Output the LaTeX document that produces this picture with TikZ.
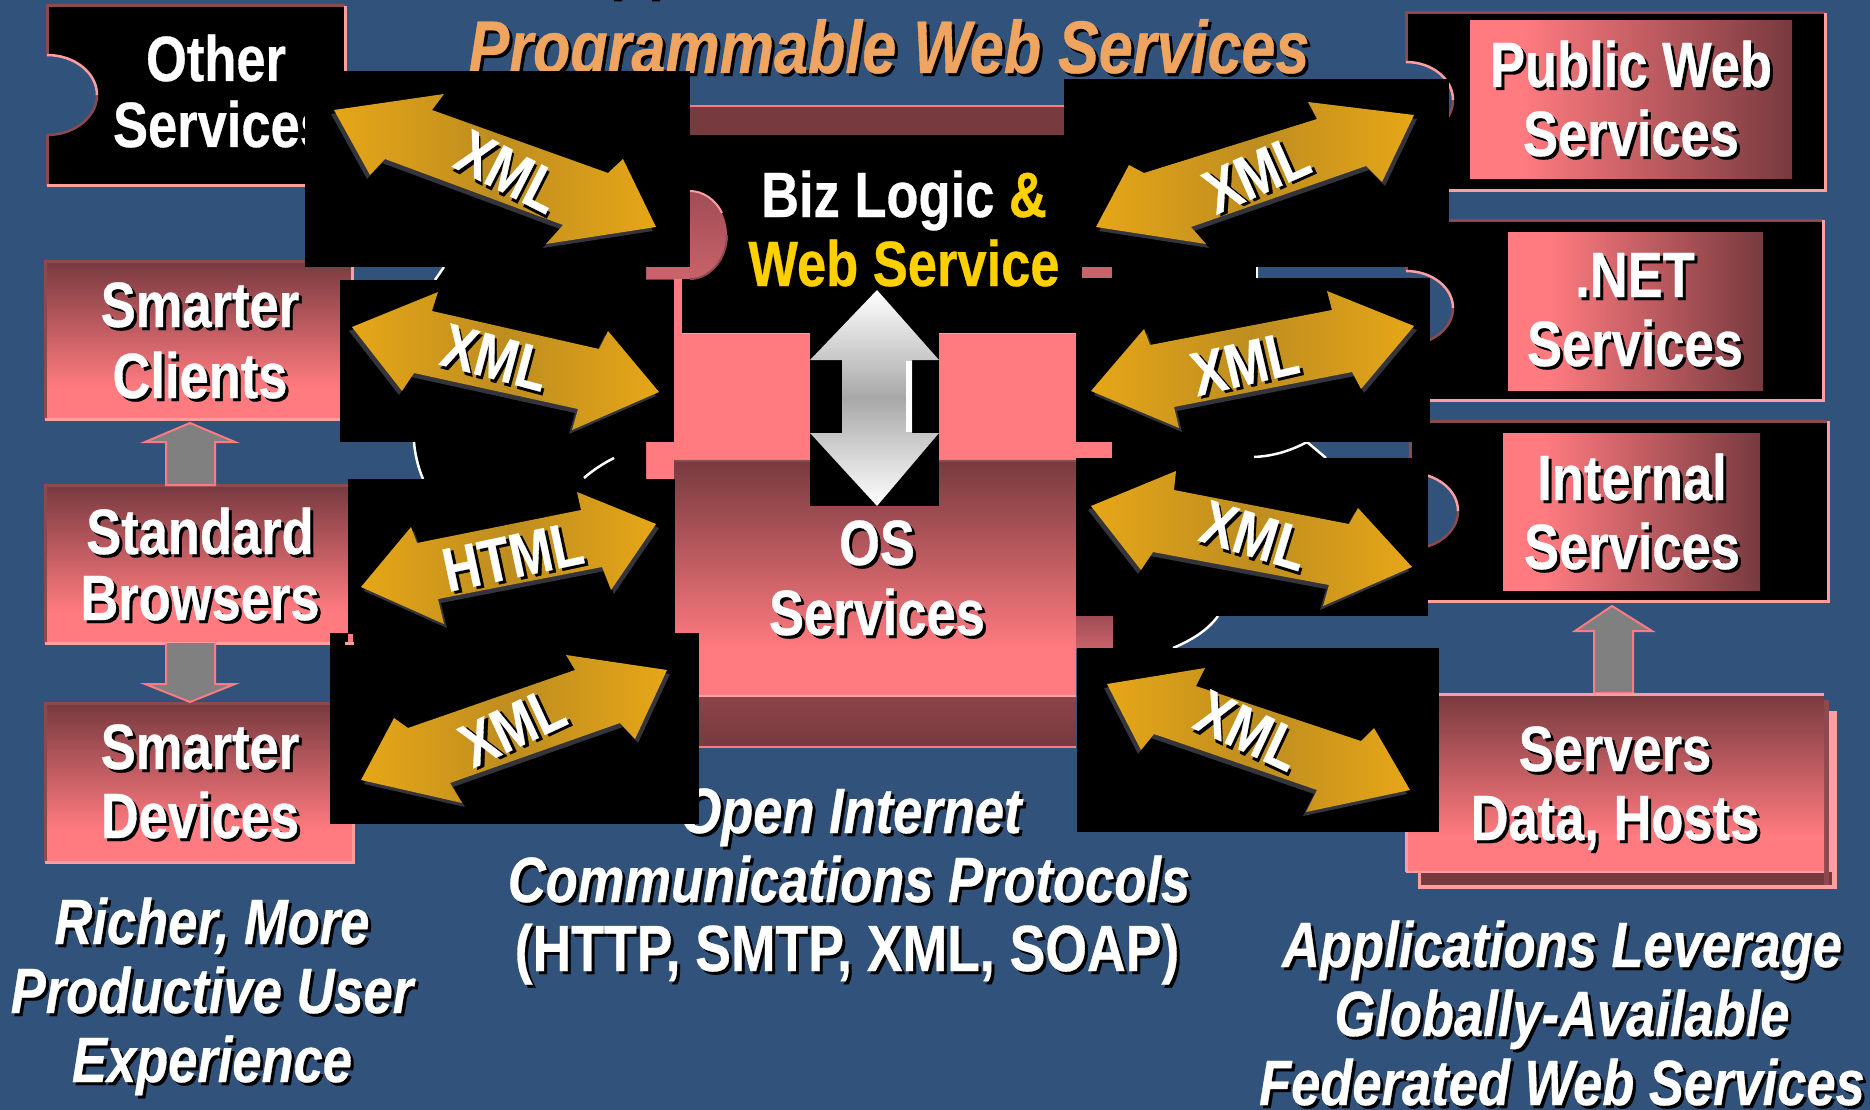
\documentclass[tikz,border=0pt]{standalone}
\usepackage{fontspec}
\newfontfamily\lab[FakeStretch=0.82,FakeBold=0.5]{Liberation Sans}
\definecolor{bgc}{HTML}{30527B}
\definecolor{pk}{HTML}{FF7B80}
\definecolor{dk}{HTML}{773A3F}
\definecolor{lt}{HTML}{FF9EA2}
\definecolor{ed}{HTML}{8C4A50}
\definecolor{tabc}{HTML}{C9626A}
\definecolor{tabd}{HTML}{A04D55}
\definecolor{gd}{HTML}{E6A617}
\definecolor{gdm}{HTML}{BE8D20}
\definecolor{ttl}{HTML}{EFA45F}
\definecolor{yel}{HTML}{FFD000}
\definecolor{sv}{HTML}{A8A8A8}
\definecolor{gsh}{HTML}{33343C}
\pgfdeclareverticalshading{redv}{100bp}{color(0bp)=(pk); color(35bp)=(pk); color(75bp)=(dk); color(100bp)=(dk)}
\pgfdeclarehorizontalshading{redh}{100bp}{color(0bp)=(pk); color(33bp)=(pk); color(75bp)=(dk); color(100bp)=(dk)}
\pgfdeclareverticalshading{silv}{100bp}{color(0bp)=(white); color(25bp)=(white); color(50bp)=(sv); color(75bp)=(white); color(100bp)=(white)}
\newcommand\sh[1]{\leavevmode\rlap{\kern3pt\raisebox{-3pt}{\color{black}#1}}#1}
\newcommand\edges[4]{%
  \draw[ed,line width=3pt] (#1,#4)--(#1,#2)--(#3,#2);
  \draw[lt,line width=3pt] (#3,#2)--(#3,#4)--(#1,#4);}
\newcommand\rbox[5]{% shaded box
  \shade[shading=#5] (#1,#2) rectangle (#3,#4);
  \edges{#1}{#2}{#3}{#4}}
\newcommand\notch[4]{%
  \begin{scope}[shift={(#1,#2)},xscale=#3,yscale=#4]
  \fill[bgc] (-.05,-1) -- (0,-1) .. controls (.5523,-1) and (1,-.5523) .. (1,0) .. controls (1,.5523) and (.5523,1) .. (0,1) -- (-.05,1) -- cycle;
  \draw[ed,line width=2.5pt] (1,0) .. controls (1,.5523) and (.5523,1) .. (0,1);
  \draw[lt,line width=2.5pt] (0,-1) .. controls (.5523,-1) and (1,-.5523) .. (1,0);
  \end{scope}}
\newcommand\goldarrow[3]{%
  \fill[gsh,shift={(#1,#2)}] #3 -- cycle;
  \shade[left color=gd,right color=gd,middle color=gdm] #3 -- cycle;}
\newcommand\grayarrow[1]{\draw[fill=gray,draw=pk,line width=2pt] #1;}
\tikzset{
  every node/.style={inner sep=0pt,outer sep=0pt},
  lab/.style={anchor=base,text=white,font=\lab\bfseries\fontsize{64}{64}\selectfont},
  ital/.style={anchor=base,text=white,font=\lab\bfseries\itshape\fontsize{64}{64}\selectfont},
  ttlstyle/.style={anchor=base,text=ttl,font=\lab\bfseries\itshape\fontsize{74.5}{74.5}\selectfont},
  xlab/.style={anchor=center,text=white,font=\lab\bfseries\fontsize{62}{62}\selectfont},
}
\begin{document}
\begin{tikzpicture}[x=1pt,y=-1pt]
\useasboundingbox (0,0) rectangle (1870,1110);
\fill[bgc] (0,0) rectangle (1870,1110);
\fill[black] (614,0) rectangle (622,1.5) (652,0) rectangle (660,1.5);
% title
\node[ttlstyle] (title) at (889,73) {\sh{Programmable Web Services}};
% centre band, pink block, OS box
\fill[dk] (690,106) rectangle (1070,135);
\draw[pk,line width=2pt] (690,106)--(1070,106);
\fill[pk] (674,333) rectangle (1076,461);
\fill[pk] (646,442) rectangle (682,479);
\fill[pk] (1076,442) rectangle (1112,458);
\draw[lt,line width=2pt] (682,333)--(1076,333);
\shade[shading=redv] (674,460) rectangle (1076,697);
\draw[ed,line width=2pt] (674,461)--(1076,461);
\shade[top color=dk!85!pk,bottom color=dk] (674,697) rectangle (1076,747);
\draw[lt,line width=2pt] (698,696)--(1076,696);
\draw[pk,line width=2pt] (698,747)--(1076,747);
\fill[black] (682,135) rectangle (1076,333);
\fill[black] (1060,267) rectangle (1082,278);
\fill[tabc] (646,267) rectangle (690,279);
\fill[tabc] (1082,267) rectangle (1112,278);
\shade[top color=tabd,bottom color=tabc] (1076,616) rectangle (1113,648);
\fill[pk] (674,279) rectangle (682,333);
% tab on centre box
\shade[top color=tabd,bottom color=tabc] (690,191) .. controls (710,191) and (727,211) .. (727,235) .. controls (727,259) and (710,279) .. (690,279) -- cycle;
\draw[lt,line width=2pt] (690,191) .. controls (703,191) and (716,200) .. (722,213);
\draw[ed,line width=2pt] (727,235) .. controls (727,259) and (710,279) .. (690,279);
% hidden round shapes
\fill[black] (444,267)--(646,267)--(646,280)--(436,280)--cycle;
\draw[white,line width=2.5pt] (444,267)--(435,280);
\fill[black] (414,442)--(646,442)--(646,479)--(423,479)--cycle;
\draw[white,line width=2.5pt] (414,442) .. controls (415,455) and (418,467) .. (423,479);
\draw[white,line width=2.5pt] (614,458) .. controls (604,463) and (593,470) .. (584,478);
\fill[black] (1112,267) rectangle (1257,278);
\fill[white] (1255.5,267) rectangle (1258,278);
\fill[black] (1112,442)--(1307,442)--(1326,458)--(1112,458)--cycle;
\draw[white,line width=2.5pt] (1254,457) .. controls (1275,456) and (1292,450) .. (1307,442) -- (1326,458);
\fill[black] (1113,616)--(1218,616) .. controls (1208,630) and (1192,640) .. (1173,648) --(1113,648)--cycle;
\draw[white,line width=2.5pt] (1218,616) .. controls (1208,630) and (1192,640) .. (1173,648);
% vertical arrow
\fill[black] (810,333) rectangle (939,506);
\shade[shading=silv] (877,290)--(939,360)--(912,360)--(912,433)--(939,433)--(877,506)--(810,433)--(842,433)--(842,360)--(810,360)--cycle;
\fill[white] (906,361) rectangle (912,432);
% left boxes
\fill[black] (47,6) rectangle (345,186);
\edges{47}{6}{345}{186}
\notch{47}{95}{50}{40}
\rbox{45}{261}{352}{419}{redv}
\rbox{45}{485}{353}{643}{redv}
\rbox{45}{703}{353}{862}{redv}
\grayarrow{(190,423)--(235,442)--(215,442)--(215,485)--(166,485)--(166,442)--(145,442)--cycle}
\grayarrow{(166,643)--(166,684)--(145,684)--(190,702)--(235,684)--(215,684)--(215,643)}
% right boxes
\fill[black] (1406,13) rectangle (1825,191);
\edges{1406}{13}{1825}{191}
\notch{1406}{100}{47}{38}
\shade[shading=redh] (1470,21) rectangle (1792,179);
\fill[black] (1406,220) rectangle (1823,400);
\edges{1406}{220}{1823}{400}
\notch{1406}{308}{47}{37}
\shade[shading=redh] (1508,232) rectangle (1763,390);
\fill[black] (1410,421) rectangle (1828,601);
\edges{1410}{421}{1828}{601}
\notch{1410}{511}{48}{38}
\shade[shading=redh] (1503,433) rectangle (1760,590);
\grayarrow{(1612,606)--(1652,631)--(1633,631)--(1633,693)--(1594,693)--(1594,631)--(1575,631)--cycle}
% servers
\fill[lt] (1418,711) rectangle (1837,889);
\fill[dk] (1421,872) rectangle (1832,885);
\fill[ed] (1824,700) rectangle (1829,885);
\shade[shading=redv] (1406,694) rectangle (1824,872);
\draw[lt,line width=3pt] (1406,872)--(1406,694)--(1824,694);
\draw[lt,line width=2pt] (1406,872)--(1824,872);
% text hidden in part by the black squares
\node[lab] (other) at (216,81) {\sh{Other}};
\node[lab] (services1) at (221,147) {\sh{Services}};
\node[ital] (open) at (851,833) {\sh{Open Internet}};
% black squares
\fill[black] (305,71) rectangle (690,267);
\fill[black] (1064,79) rectangle (1449,267);
\fill[black] (340,280) rectangle (674,442);
\fill[black] (1076,278) rectangle (1430,442);
\fill[black] (348,479) rectangle (675,634);
\fill[black] (1076,458) rectangle (1428,616);
\fill[black] (330,633) rectangle (699,824);
\fill[black] (1077,648) rectangle (1439,832);
% corner of the Browsers box over the square
\fill[pk] (348,634) rectangle (353,643);
\draw[lt,line width=3pt] (345,643)--(354,643);
% gold arrows
\goldarrow{-3}{4}{(334,110)--(444,94)--(432,110)--(608,173)--(623,159)--(656,227)--(546,244)--(563,225)--(385,159)--(370,175)}
\goldarrow{3}{4}{(1414,115)--(1308,102)--(1317,119)--(1144,173)--(1129,165)--(1096,227)--(1206,244)--(1191,227)--(1366,166)--(1382,182)}
\goldarrow{-3}{4}{(352,327)--(438,292)--(432,311)--(599,349)--(608,331)--(659,392)--(572,430)--(578,409)--(414,373)--(402,391)}
\goldarrow{3}{4}{(1414,326)--(1327,291)--(1332,310)--(1150,345)--(1144,329)--(1091,391)--(1179,428)--(1174,407)--(1352,372)--(1361,389)}
\goldarrow{3}{4}{(361,587)--(411,527)--(417,543)--(581,510)--(577,492)--(656,524)--(611,590)--(602,567)--(438,599)--(444,624)}
\goldarrow{-3}{4}{(1091,506)--(1176,471)--(1174,490)--(1349,524)--(1358,508)--(1412,567)--(1323,606)--(1329,585)--(1153,552)--(1141,570)}
\goldarrow{3}{4}{(361,780)--(394,718)--(408,728)--(575,670)--(566,655)--(667,670)--(635,739)--(620,723)--(450,783)--(462,803)}
\goldarrow{-3}{4}{(1107,684)--(1205,668)--(1196,686)--(1361,741)--(1374,728)--(1410,790)--(1306,812)--(1317,790)--(1154,734)--(1141,750)}
% arrow labels
\node[xlab,rotate=-27] (x1) at (508,173) {\sh{XML}};
\node[xlab,rotate=24] (x2) at (1257,175) {\sh{XML}};
\node[xlab,rotate=-15] (x3) at (495,359) {\sh{XML}};
\node[xlab,rotate=13] (x4) at (1245,365) {\sh{XML}};
\node[xlab,rotate=12] (h1) at (513,558) {\sh{HTML}};
\node[xlab,rotate=-17] (x6) at (1254,537) {\sh{XML}};
\node[xlab,rotate=25] (x5) at (513,728) {\sh{XML}};
\node[xlab,rotate=-25] (x7) at (1248,732) {\sh{XML}};
% box labels
\node[lab] (l1a) at (200,327) {\sh{Smarter}};
\node[lab] (l1b) at (200,398) {\sh{Clients}};
\node[lab] (l2a) at (200,554) {\sh{Standard}};
\node[lab] (l2b) at (200,620) {\sh{Browsers}};
\node[lab] (l3a) at (200,769) {\sh{Smarter}};
\node[lab] (l3b) at (200,838) {\sh{Devices}};
\node[lab] (biz1) at (904,217) {Biz Logic \textcolor{yel}{\&}};
\node[lab,text=yel] (biz2) at (904,286) {Web Service};
\node[lab] (os1) at (877,565) {\sh{OS}};
\node[lab] (os2) at (877,635) {\sh{Services}};
\node[lab] (r1a) at (1631,87) {\sh{Public Web}};
\node[lab] (r1b) at (1631,156) {\sh{Services}};
\node[lab] (r2a) at (1635,297) {\sh{.NET}};
\node[lab] (r2b) at (1635,366) {\sh{Services}};
\node[lab] (r3a) at (1632,500) {\sh{Internal}};
\node[lab] (r3b) at (1632,569) {\sh{Services}};
\node[lab] (r4a) at (1615,771) {\sh{Servers}};
\node[lab] (r4b) at (1615,840) {\sh{Data, Hosts}};
% captions
\node[ital] (c1a) at (212,944) {\sh{Richer, More}};
\node[ital] (c1b) at (212,1013) {\sh{Productive User}};
\node[ital] (c1c) at (212,1082) {\sh{Experience}};
\node[ital] (c2b) at (849,902) {\sh{Communications Protocols}};
\node[lab,font=\lab\bfseries\fontsize{65.3}{65.3}\selectfont] (c2c) at (847,971) {\sh{(HTTP, SMTP, XML, SOAP)}};
\node[ital] (c3a) at (1562,967) {\sh{Applications Leverage}};
\node[ital] (c3b) at (1562,1036) {\sh{Globally-Available}};
\node[ital] (c3c) at (1562,1105) {\sh{Federated Web Services}};
\end{tikzpicture}
\end{document}
